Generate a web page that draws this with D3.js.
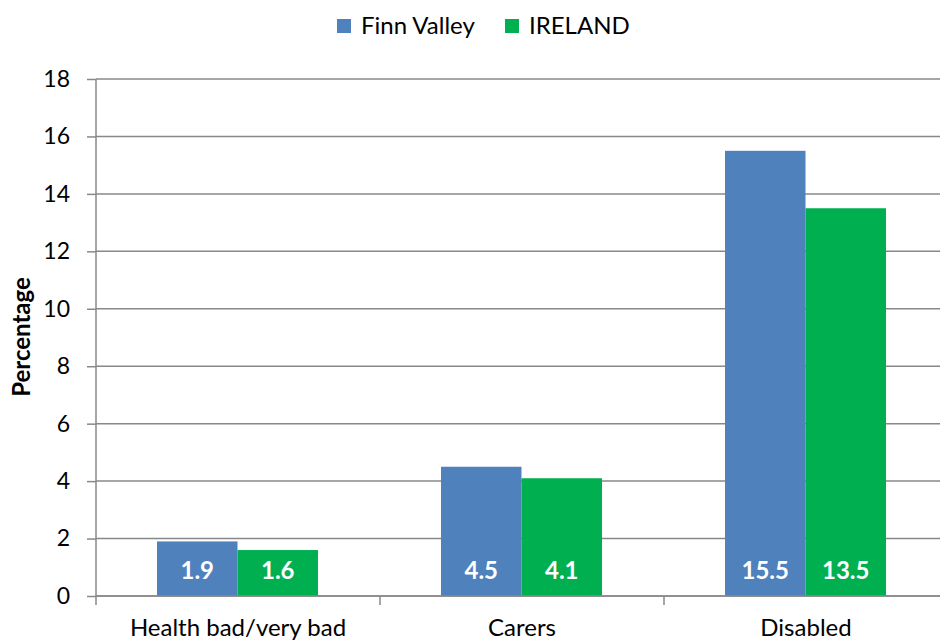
<!DOCTYPE html>
<html>
<head>
<meta charset="utf-8">
<script src="https://cdn.jsdelivr.net/npm/d3@7"></script>
<style>
  body { margin: 0; background: #fff; }
  svg { display: block; font-family: Lato, "Open Sans", sans-serif; }
</style>
</head>
<body>
<svg id="chart" width="940" height="641"></svg>
<script>
// chart data
var categories = ["Health bad/very bad", "Carers", "Disabled"];
var seriesNames = ["Finn Valley", "IRELAND"];
var finnValley = [1.9, 4.5, 15.5];
var ireland = [1.6, 4.1, 13.5];
var yTicks = [0, 2, 4, 6, 8, 10, 12, 14, 16, 18];

var colors = ["#4F81BD", "#00B050"];
var margin = { top: 79, right: -8, bottom: 45, left: 96 };
var width = 940 - margin.left - margin.right;
var height = 641 - margin.top - margin.bottom;

var svg = d3.select("#chart");
var g = svg.append("g")
  .attr("transform", "translate(" + margin.left + "," + margin.top + ")");

var rows = categories.map(function(c, i) {
  return { cat: c, values: [finnValley[i], ireland[i]] };
});

var x0 = d3.scaleBand().domain(categories).range([0, width]).paddingInner(0).paddingOuter(0);
var x1 = d3.scaleBand().domain(seriesNames).range([61, x0.bandwidth() - 62]);
var y = d3.scaleLinear().domain([0, 18]).range([height, 0]);

// gridlines
g.selectAll("line.grid")
  .data(yTicks)
  .enter().append("line")
  .attr("x1", 0).attr("x2", width)
  .attr("y1", function(d) { return y(d); })
  .attr("y2", function(d) { return y(d); })
  .attr("stroke", "#888").attr("stroke-width", 1.5);

// bars
var groups = g.selectAll("g.cat")
  .data(rows)
  .enter().append("g")
  .attr("transform", function(d) { return "translate(" + x0(d.cat) + ",0)"; });

groups.selectAll("rect")
  .data(function(d) { return d.values.map(function(v, i) { return { s: seriesNames[i], v: v, i: i }; }); })
  .enter().append("rect")
  .attr("x", function(d) { return x1(d.s); })
  .attr("width", x1.bandwidth())
  .attr("y", function(d) { return y(d.v); })
  .attr("height", function(d) { return y(0) - y(d.v); })
  .attr("fill", function(d) { return colors[d.i]; });

groups.selectAll("text")
  .data(function(d) { return d.values.map(function(v, i) { return { s: seriesNames[i], v: v }; }); })
  .enter().append("text")
  .attr("x", function(d) { return x1(d.s) + x1.bandwidth() / 2; })
  .attr("y", height - 17)
  .attr("text-anchor", "middle")
  .attr("fill", "#fff")
  .attr("font-weight", "bold")
  .attr("font-size", 24)
  .text(function(d) { return d.v.toFixed(1); });

// y axis
var yAxis = g.append("g")
  .call(d3.axisLeft(y).tickValues(yTicks).tickSize(9).tickPadding(17));
yAxis.selectAll("line, path").attr("stroke", "#888").attr("stroke-width", 1.5);
yAxis.select("path").attr("d", "M0,0V" + height);
yAxis.selectAll("text").attr("font-size", 23).attr("fill", "#000").attr("font-family", "Lato, sans-serif");

// x axis
var xAxis = g.append("g")
  .attr("transform", "translate(0," + height + ")")
  .call(d3.axisBottom(x0).tickSize(0).tickPadding(0));
xAxis.select("path").attr("stroke", "#888").attr("stroke-width", 1.5).attr("d", "M0,0H" + width);
xAxis.selectAll("text")
  .attr("y", 40).attr("dy", 0)
  .attr("font-size", 24).attr("fill", "#000").attr("font-family", "Lato, sans-serif");
xAxis.selectAll("line.sep")
  .data(categories)
  .enter().append("line")
  .attr("x1", function(d) { return x0(d); })
  .attr("x2", function(d) { return x0(d); })
  .attr("y1", 0).attr("y2", 9)
  .attr("stroke", "#888").attr("stroke-width", 1.5);

// y label
svg.append("text")
  .attr("transform", "translate(30,337) rotate(-90)")
  .attr("text-anchor", "middle")
  .attr("font-weight", "bold")
  .attr("font-size", 24)
  .text("Percentage");

// legend
var legendX = [337, 505];
var legend = svg.selectAll("g.legend")
  .data(seriesNames)
  .enter().append("g")
  .attr("transform", function(d, i) { return "translate(" + legendX[i] + ",19)"; });
legend.append("rect")
  .attr("width", 14).attr("height", 14)
  .attr("fill", function(d, i) { return colors[i]; });
legend.append("text")
  .attr("x", 24).attr("y", 15)
  .attr("font-size", 24)
  .text(function(d) { return d; });
</script>
</body>
</html>
